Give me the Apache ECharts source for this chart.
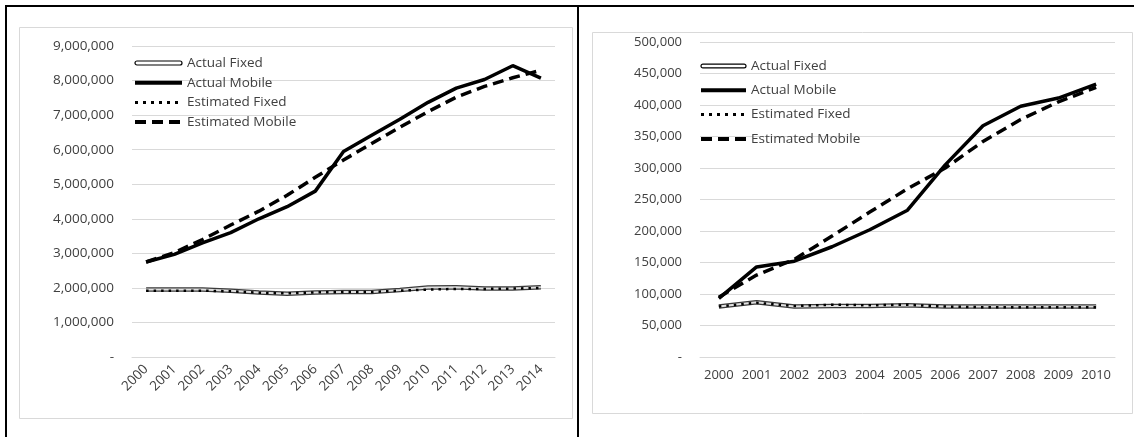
<!DOCTYPE html>
<html>
<head>
<meta charset="utf-8">
<script src="https://cdn.jsdelivr.net/npm/echarts@6/dist/echarts.min.js"></script>
<style>
html,body{margin:0;padding:0;background:#fff;}
#c{width:1134px;height:437px;}
</style>
</head>
<body>
<div id="c"></div>
<script>
// ---- Left chart data ----
var yearsA = ['2000','2001','2002','2003','2004','2005','2006','2007','2008','2009','2010','2011','2012','2013','2014'];
var actualFixedA = [1950000,1950000,1950000,1920000,1870000,1830000,1870000,1880000,1880000,1940000,2010000,2020000,1980000,1980000,2020000];
var actualMobileA = [2750000,2970000,3300000,3600000,4000000,4350000,4800000,5950000,6420000,6880000,7370000,7780000,8030000,8430000,8070000];
var estFixedA = [1920000,1920000,1920000,1900000,1860000,1840000,1870000,1880000,1880000,1920000,1950000,1970000,1970000,1980000,2000000];
var estMobileA = [2750000,3020000,3400000,3820000,4220000,4680000,5200000,5700000,6180000,6650000,7100000,7520000,7830000,8080000,8300000];
var yTicksA = {min:0, max:9000000, interval:1000000};

// ---- Right chart data ----
var yearsB = ['2000','2001','2002','2003','2004','2005','2006','2007','2008','2009','2010'];
var actualFixedB = [80000,87000,80000,81000,81000,82000,80000,80000,80000,80000,80000];
var actualMobileB = [93000,143000,152000,175000,202000,233000,305000,367000,398000,411000,433000];
var estFixedB = [80000,86000,81000,83000,82000,83000,80000,79000,79000,79000,79000];
var estMobileB = [95000,130000,155000,192000,230000,267000,300000,342000,377000,405000,428000];
var yTicksB = {min:0, max:500000, interval:50000};

var legendNames = ['Actual Fixed','Actual Mobile','Estimated Fixed','Estimated Mobile'];

var FONT = 'Open Sans';
var TXT = '#404040';

function fmt(v){ return v === 0 ? '-' : Number(v).toLocaleString('en-US'); }

function seriesFor(idx, af, am, ef, em){
  return [
    {name:'Actual Fixed', type:'line', xAxisIndex:idx, yAxisIndex:idx, data:af, symbol:'none', z:2,
      color:'#000', lineStyle:{color:'#3a3a3a', width:4.5}},
    {name:'Actual Fixed inner', type:'line', xAxisIndex:idx, yAxisIndex:idx, data:af, symbol:'none', z:3,
      color:'#fff', lineStyle:{color:'#e0e0e0', width:2}, silent:true},
    {name:'Estimated Fixed', type:'line', xAxisIndex:idx, yAxisIndex:idx, data:ef, symbol:'none', z:4,
      color:'#000', lineStyle:{color:'#000', width:2.5, type:[2.5,5], cap:'butt'}},
    {name:'Actual Mobile', type:'line', xAxisIndex:idx, yAxisIndex:idx, data:am, symbol:'none', z:5,
      color:'#000', lineStyle:{color:'#000', width:3.5}},
    {name:'Estimated Mobile', type:'line', xAxisIndex:idx, yAxisIndex:idx, data:em, symbol:'none', z:6,
      color:'#000', lineStyle:{color:'#000', width:3.5, type:[11,6], cap:'butt'}}
  ];
}

function legendFor(left, top, gap, w, fs){
  var hide = {opacity:0, borderWidth:0};
  return {
    orient:'vertical', left:left, top:top, itemWidth:w, itemHeight:14, itemGap:gap,
    padding:0, selectedMode:false,
    textStyle:{fontFamily:FONT, fontSize:fs, color:TXT},
    data:[
      {name:'Actual Fixed', icon:'path://M2,0L45,0A2,2 0 0 1 45,4L2,4A2,2 0 0 1 2,0Z', itemStyle:{color:'#fff', borderColor:'#000', borderWidth:1.2}},
      {name:'Actual Mobile', itemStyle:hide, lineStyle:{color:'#000', width:4, type:'solid'}},
      {name:'Estimated Fixed', itemStyle:hide, lineStyle:{color:'#000', width:3, type:[3,5], cap:'butt'}},
      {name:'Estimated Mobile', itemStyle:hide, lineStyle:{color:'#000', width:4, type:[11,6], cap:'butt'}}
    ]
  };
}

var chart = echarts.init(document.getElementById('c'), null, {renderer:'canvas'});
var option = {
  animation:false,
  backgroundColor:'#fff',
  graphic:[
    {type:'rect', shape:{x:19.5, y:27.5, width:553, height:391}, style:{fill:'none', stroke:'#d9d9d9', lineWidth:1}, z:0},
    {type:'rect', shape:{x:592.5, y:32.5, width:540, height:381}, style:{fill:'none', stroke:'#d9d9d9', lineWidth:1}, z:0},
    {type:'rect', shape:{x:5, y:5, width:1129, height:2}, style:{fill:'#000'}, z:10},
    {type:'rect', shape:{x:5, y:5, width:2, height:432}, style:{fill:'#000'}, z:10},
    {type:'rect', shape:{x:577, y:5, width:2, height:432}, style:{fill:'#000'}, z:10}
  ],
  legend:[ legendFor(133, 56, 5.7, 47, 13.5), legendFor(699, 59, 10.3, 45, 13.5) ],
  grid:[
    {left:132, top:46, width:423, height:311, containLabel:false},
    {left:700, top:42, width:415, height:315, containLabel:false}
  ],
  xAxis:[
    {type:'category', gridIndex:0, data:yearsA, boundaryGap:true,
      axisLine:{show:true, lineStyle:{color:'#d9d9d9'}}, axisTick:{show:false},
      axisLabel:{rotate:45, margin:10, interval:0, fontFamily:FONT, fontSize:13.5, color:TXT}},
    {type:'category', gridIndex:1, data:yearsB, boundaryGap:true,
      axisLine:{show:true, lineStyle:{color:'#d9d9d9'}}, axisTick:{show:false},
      axisLabel:{margin:12, interval:0, fontFamily:FONT, fontSize:13, color:TXT}}
  ],
  yAxis:[
    {type:'value', gridIndex:0, min:yTicksA.min, max:yTicksA.max, interval:yTicksA.interval,
      axisLine:{show:false}, axisTick:{show:false},
      splitLine:{lineStyle:{color:'#d9d9d9'}},
      axisLabel:{formatter:fmt, margin:18, fontFamily:FONT, fontSize:13.5, color:TXT}},
    {type:'value', gridIndex:1, min:yTicksB.min, max:yTicksB.max, interval:yTicksB.interval,
      axisLine:{show:false}, axisTick:{show:false},
      splitLine:{lineStyle:{color:'#d9d9d9'}},
      axisLabel:{formatter:fmt, margin:18, fontFamily:FONT, fontSize:13, color:TXT}}
  ],
  series: seriesFor(0, actualFixedA, actualMobileA, estFixedA, estMobileA)
    .concat(seriesFor(1, actualFixedB, actualMobileB, estFixedB, estMobileB))
};
chart.setOption(option);
</script>
</body>
</html>
